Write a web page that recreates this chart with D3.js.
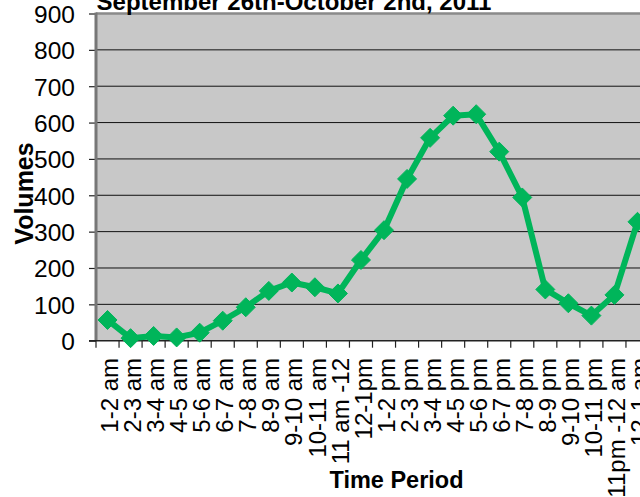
<!DOCTYPE html>
<html><head><meta charset="utf-8">
<script src="https://cdn.jsdelivr.net/npm/d3@7"></script>
<style>
html,body{margin:0;padding:0;background:#fff;}
svg{display:block;font-family:Arial,"Liberation Sans",sans-serif;}
</style></head>
<body>
<svg id="chart" width="640" height="497"></svg>
<script>
const categories = ["1-2 am","2-3 am","3-4 am","4-5 am","5-6 am","6-7 am","7-8 am","8-9 am","9-10 am","10-11 am","11 am -12","12-1pm","1-2 pm","2-3 pm","3-4 pm","4-5 pm","5-6 pm","6-7 pm","7-8 pm","8-9 pm","9-10 pm","10-11 pm","11pm -12 am","12-1 am"];
const volumes = [57, 7, 13, 9, 22, 55, 92, 137, 160, 147, 130, 222, 304, 445, 558, 619, 623, 520, 394, 141, 103, 69, 126, 327];
const yTicks = [0,100,200,300,400,500,600,700,800,900];
const chartTitle = "September 26th-October 2nd, 2011";
const xTitle = "Time Period";
const yTitle = "Volumes";

const svg = d3.select("#chart");
const pLeft = 96, pRight = 649, pTop = 13.5, pBottom = 340.7;

const x = d3.scaleBand().domain(categories).range([pLeft, pRight]).padding(0);
const y = d3.scaleLinear().domain([0, 900]).range([pBottom, pTop]);

// plot background
svg.append("rect").attr("x", pLeft).attr("y", pTop).attr("width", pRight - pLeft).attr("height", pBottom - pTop).attr("fill", "#C8C8C8");

// gridlines
svg.append("g").selectAll("line").data(yTicks.filter(d => d > 0 && d < 900)).join("line")
  .attr("x1", pLeft).attr("x2", pRight).attr("y1", d => y(d)).attr("y2", d => y(d))
  .attr("stroke", "#111").attr("stroke-width", 1);

// top border
svg.append("line").attr("x1", pLeft).attr("x2", pRight).attr("y1", pTop).attr("y2", pTop).attr("stroke", "#8a8a8a").attr("stroke-width", 2.5);

// y axis
const yAxis = d3.axisLeft(y).tickValues(yTicks).tickSize(7).tickPadding(14);
const gy = svg.append("g").attr("transform", `translate(${pLeft},0)`).call(yAxis);
gy.select(".domain").remove();
gy.selectAll(".tick line").attr("stroke", "#222").attr("stroke-width", 1.2);
gy.selectAll(".tick text").attr("font-size", 24.5).attr("fill", "#000").attr("font-family", "Arial, 'Liberation Sans', sans-serif").attr("dy", "0.36em");
svg.append("line").attr("x1", pLeft).attr("x2", pLeft).attr("y1", pTop - 1).attr("y2", pBottom).attr("stroke", "#777").attr("stroke-width", 3);

// x axis
svg.append("line").attr("x1", pLeft - 7).attr("x2", pRight).attr("y1", pBottom).attr("y2", pBottom).attr("stroke", "#222").attr("stroke-width", 1.5);
const bounds = categories.map(c => x(c)).concat([pRight]);
svg.append("g").selectAll("line").data(bounds).join("line")
  .attr("x1", d => d).attr("x2", d => d).attr("y1", pBottom).attr("y2", pBottom + 7)
  .attr("stroke", "#222").attr("stroke-width", 1.2);

svg.append("g").selectAll("text").data(categories).join("text")
  .attr("transform", d => `translate(${x(d) + x.bandwidth() / 2 + 2},358) rotate(-90)`)
  .attr("text-anchor", "end").attr("dy", "0.36em")
  .attr("font-size", 24).attr("fill", "#000")
  .text(d => d);

// line + markers
const cx = d => x(d) + x.bandwidth() / 2;
const pts = categories.map((c, i) => [cx(c), y(volumes[i])]);
svg.append("path").datum(pts).attr("d", d3.line())
  .attr("fill", "none").attr("stroke", "#00B55A").attr("stroke-width", 6).attr("stroke-linejoin", "round");
svg.append("g").selectAll("path").data(pts).join("path")
  .attr("d", d => `M${d[0]},${d[1] - 9.5}L${d[0] + 9.5},${d[1]}L${d[0]},${d[1] + 9.5}L${d[0] - 9.5},${d[1]}Z`)
  .attr("fill", "#00B55A").attr("stroke", "#00B55A").attr("stroke-width", 1);

// titles
svg.append("text").attr("x", 294).attr("y", 10).attr("text-anchor", "middle")
  .attr("font-size", 24).attr("font-weight", "bold").attr("fill", "#000").text(chartTitle);
svg.append("text").attr("x", 396.5).attr("y", 488).attr("text-anchor", "middle")
  .attr("font-size", 23.5).attr("font-weight", "bold").attr("fill", "#000").text(xTitle);
svg.append("text").attr("transform", "translate(33,193.5) rotate(-90)").attr("text-anchor", "middle")
  .attr("font-size", 25).attr("font-weight", "bold").attr("fill", "#000").text(yTitle);
</script>
</body></html>
